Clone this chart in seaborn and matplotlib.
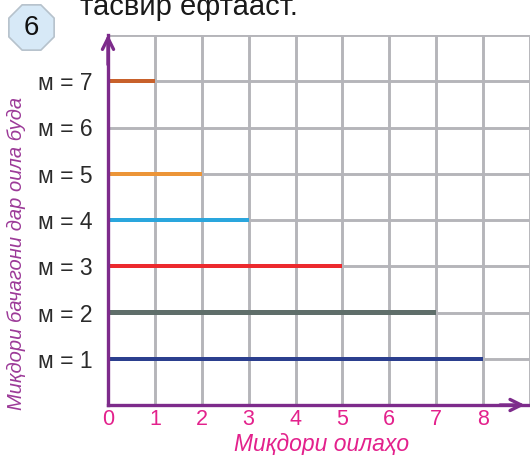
import numpy as np
import pandas as pd
import matplotlib
matplotlib.use("Agg")
import matplotlib.pyplot as plt
from matplotlib.patches import RegularPolygon
import seaborn as sns

# children per family (m) and number of families
m_values = [1, 2, 3, 4, 5, 6, 7]
families = [8, 7, 5, 3, 2, 0, 1]
m_labels = ["м = 1", "м = 2", "м = 3", "м = 4", "м = 5", "м = 6", "м = 7"]
bar_colors = ["#2b3f8e", "#5f6e6a", "#ec2a2e", "#2aa6dd", "#ec9538", "#b07ab8", "#c8612b"]
x_ticks = [0, 1, 2, 3, 4, 5, 6, 7, 8]

df = pd.DataFrame({"m": m_values, "families": families, "label": m_labels})

sns.set_style("white")
plt.rcParams["font.family"] = ["Liberation Sans", "DejaVu Sans"]

fig = plt.figure(figsize=(5.3, 4.55), dpi=100)
ax = fig.add_axes([108 / 530, 50 / 455, 422 / 530, 370 / 455])

sns.barplot(data=df, x="families", y="m", hue="label", palette=bar_colors,
            orient="h", native_scale=True, width=0.09, linewidth=0,
            saturation=1, legend=False, ax=ax, zorder=3)

ax.set_xlim(0, 8.98)
ax.set_ylim(0, 8)
ax.set_xticks(range(0, 10))
ax.set_xticklabels([str(v) for v in x_ticks] + [""])
ax.set_yticks(range(0, 9))
ax.set_yticklabels([""] + m_labels + [""])
ax.grid(True, color="#b5b5ba", linewidth=2.1, zorder=1)
ax.set_axisbelow(True)
ax.tick_params(axis="x", length=0, pad=3, labelsize=15.5, labelcolor="#e3218c")
ax.tick_params(axis="y", length=0, pad=11, labelsize=16.5, labelcolor="#2a2a2a")
ax.set_xlabel("")
ax.set_ylabel("")

purple = "#7d2b8b"
for s in ["top", "right"]:
    ax.spines[s].set_visible(False)
for s in ["left", "bottom"]:
    ax.spines[s].set_color(purple)
    ax.spines[s].set_linewidth(2.4)
    ax.spines[s].set_zorder(4)

ax.annotate("", xy=(0, 8.07), xytext=(0, 7.3), xycoords="data",
            arrowprops=dict(arrowstyle="->", color=purple, lw=2.4,
                            mutation_scale=20), annotation_clip=False, zorder=5)
ax.annotate("", xy=(8.95, 0), xytext=(8.3, 0), xycoords="data",
            arrowprops=dict(arrowstyle="->", color=purple, lw=2.4,
                            mutation_scale=20), annotation_clip=False, zorder=5)

fig.text(322 / 530, 1 - 444.5 / 455, "Миқдори оилаҳо", color="#e3218c",
         fontsize=16.5, style="italic", ha="center", va="center")
fig.text(16 / 530, 1 - 253 / 455, "Миқдори бачагони дар оила буда",
         color="#9c3a98", fontsize=14.5, style="italic", rotation=90,
         ha="center", va="center")

# badge
fig.add_artist(RegularPolygon((0.315, 4.55 - 0.275), numVertices=8, radius=0.245,
                              orientation=np.pi / 8, facecolor="#d7e9f7",
                              edgecolor="#b6c2cc", linewidth=1.2,
                              transform=fig.dpi_scale_trans))
fig.text(31.5 / 530, 1 - 28 / 455, "6", fontsize=20, color="#111111",
         ha="center", va="center")

fig.text(80 / 530, 1 - 15 / 455, "тасвир ефтааст.", fontsize=21,
         color="#1a1a1a", ha="left", va="baseline")

fig.savefig("out.png", dpi=100)
